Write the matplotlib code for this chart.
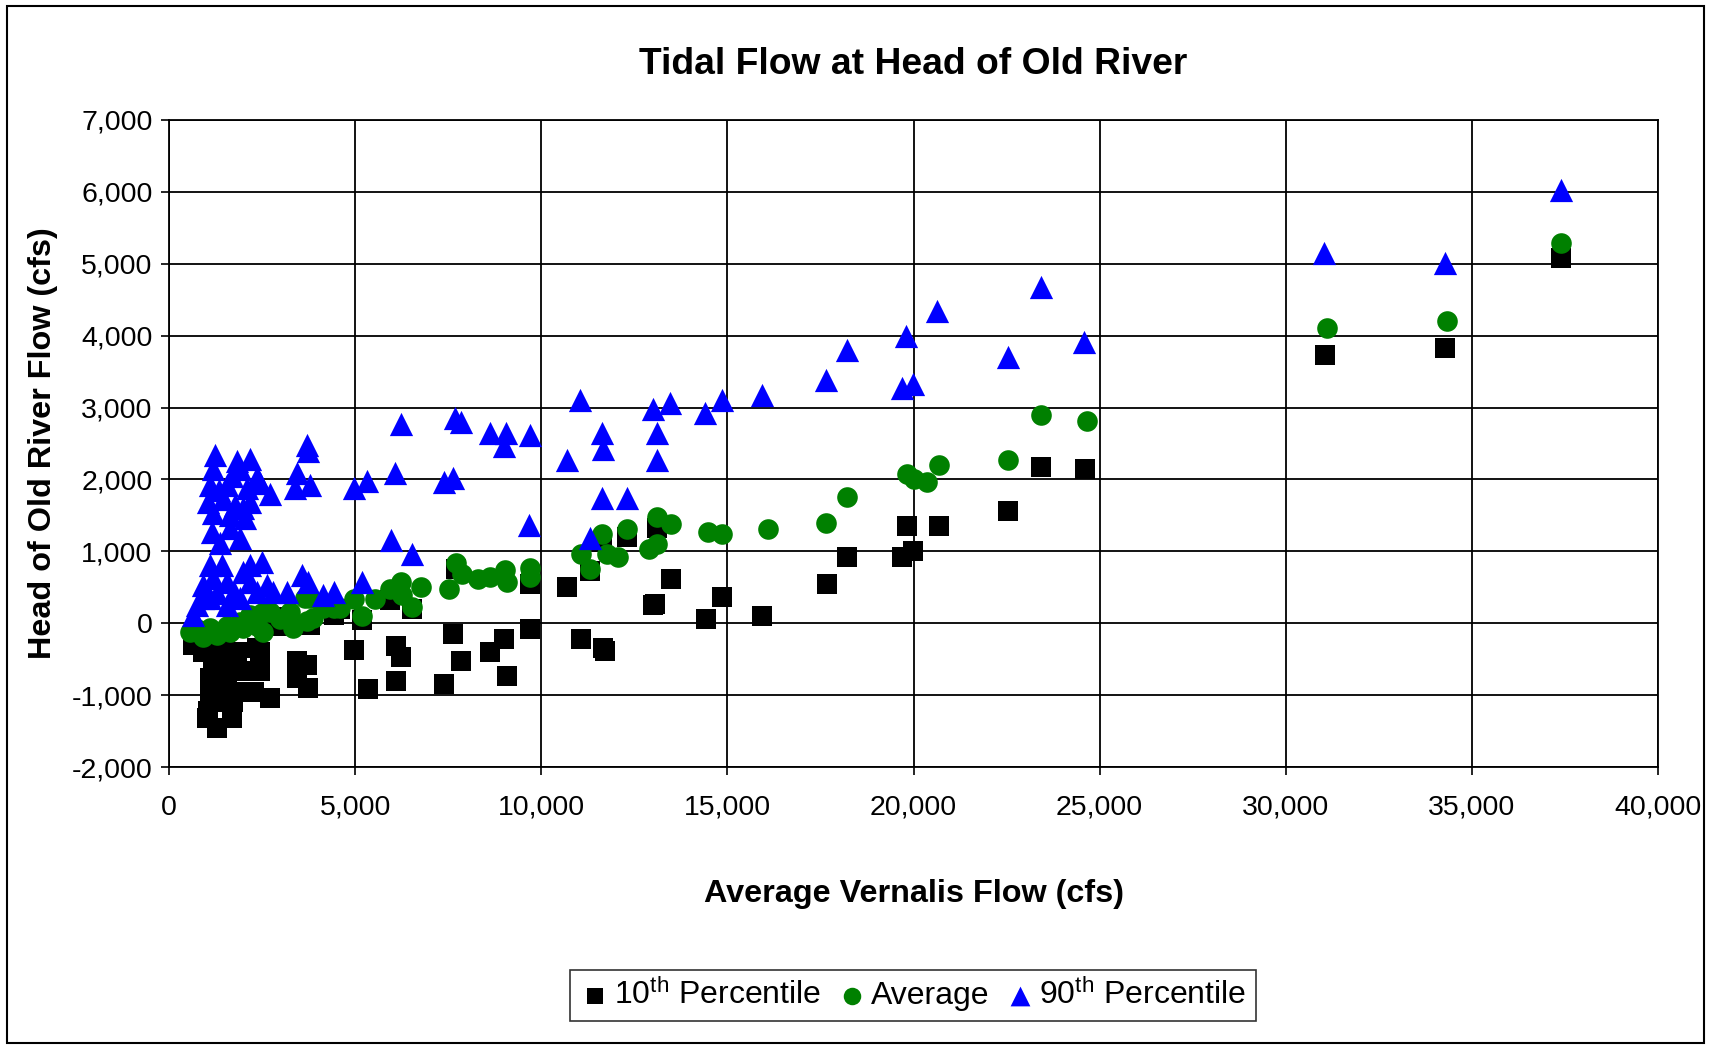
import matplotlib
matplotlib.use("Agg")
import matplotlib.pyplot as plt
from matplotlib.patches import Rectangle
from matplotlib.ticker import FuncFormatter

plt.rcParams["font.family"] = ["Liberation Sans", "DejaVu Sans"]
plt.rcParams["mathtext.fontset"] = "custom"
plt.rcParams["mathtext.rm"] = "Liberation Sans"
plt.rcParams["mathtext.default"] = "regular"

# 10th percentile (x = Vernalis flow, y = Head of Old River flow)
p10_x = [650, 920, 1370, 1820, 2360, 1190, 1730, 2450, 1100, 1550, 2090, 2450,
         1100, 1460, 1910, 2270, 2710, 1280, 1730, 1050, 1010, 1280, 1680,
         3430, 3700, 3430, 3740, 2940, 3790, 4420, 3220, 4590, 700, 1000, 1400, 1500,
         5940, 6520, 5180, 7710, 9700, 4970, 5350, 6100, 6220, 6100, 7400, 7640,
         7830, 8620, 9010, 9070, 9700,
         11620, 12310, 13100, 11310, 10680, 13480, 13060, 14850, 14420, 15940,
         11060, 11650, 11700, 13000,
         17670, 18200, 19680, 19990, 19820, 20690, 22550, 23420, 24610,
         31050, 34290, 37390]
p10_y = [-300, -395, -350, -395, -350, -580, -530, -395, -765, -765, -670, -670,
         -995, -950, -950, -950, -1040, -1090, -1090, -1225, -1320, -1460, -1320,
         -530, -580, -765, -900, -45, -25, 115, 90, 200, -200, -150, -450, -250,
         320, 200, 50, 760, 550, -370, -910, -315, -465, -810, -840, -150,
         -530, -395, -220, -740, -80,
         1135, 1200, 1320, 720, 510, 610, 265, 370, 55, 95,
         -220, -340, -390, 260,
         540, 925, 925, 1000, 1350, 1350, 1555, 2180, 2140,
         3730, 3830, 5080]

# average
avg_x = [560, 920, 1280, 1640, 1990, 2360, 2530, 2710, 3250, 3340, 3700, 3880,
         3790, 4420, 4140, 1100, 1550, 1910, 2180, 2490, 2990, 3660, 750, 4590,
         4970, 5180, 5530, 5940, 6220, 6250, 6520, 6770, 7530, 7710, 7860, 8310,
         8620, 9030, 9070, 9700, 9700,
         11620, 12310, 13100, 13480, 14470, 14850, 16090, 17640, 11060, 11310,
         11760, 12070, 12900, 13100,
         18200, 19820, 20020, 20370, 20690, 22550, 23420, 24650,
         31110, 34330, 37390]
avg_y = [-115, -185, -160, -115, -70, -45, -115, 160, 160, -70, 25, 70,
         345, 210, 210, -60, -40, 20, 110, 140, 60, 350, -80, 214,
         340, 95, 340, 475, 570, 395, 220, 510, 475, 835, 680, 610,
         650, 740, 570, 765, 650,
         1235, 1305, 1480, 1380, 1275, 1235, 1305, 1400, 960, 755,
         960, 915, 1030, 1100,
         1760, 2080, 2000, 1970, 2200, 2270, 2890, 2820,
         4110, 4210, 5290]

# 90th percentile
p90_x = [1240, 1190, 1820, 2180, 1910, 2360, 2450, 2710, 1100, 1550, 2090, 1050,
         1460, 1770, 2180, 1190, 1640, 2040, 1150, 1640, 1370, 1910, 3700, 3740,
         3430, 3390, 3790, 1350, 1700, 2000,
         1100, 1420, 2180, 2490, 1990, 920, 1190, 1550, 2180, 2620, 740, 650,
         1100, 1550, 1910, 2360, 2800, 3160, 3560, 3740, 4140, 4420,
         1300, 1750, 900,
         4970, 5330, 6070, 6220, 7400, 7640, 7680, 7830, 8620, 9040, 9010, 9700,
         9670, 5960, 6540, 5180,
         10680, 11040, 11620, 11670, 11620, 12310, 11310, 12990, 13460, 13100,
         13100, 14400, 14850, 15940, 17650,
         18200, 19800, 20640, 23420, 19680, 19980, 22530, 24580,
         31040, 34290, 37390]
p90_y = [2340, 2150, 2250, 2290, 2150, 2040, 1950, 1800, 1920, 1920, 1875, 1690,
         1735, 1640, 1690, 1530, 1500, 1460, 1270, 1320, 1110, 1180, 2480, 2400,
         2085, 1875, 1920, 1850, 2050, 1600,
         810, 810, 810, 855, 715, 530, 625, 580, 580, 530, 255, 115,
         345, 255, 345, 440, 440, 440, 670, 580, 395, 440,
         420, 440, 350,
         1875, 1980, 2085, 2765, 1960, 2015, 2855, 2800, 2650, 2650, 2460, 2625,
         1365, 1160, 970, 580,
         2270, 3100, 2640, 2420, 1745, 1745, 1190, 2975, 3070, 2640,
         2270, 2920, 3100, 3180, 3380,
         3795, 4000, 4340, 4675, 3270, 3330, 3710, 3910,
         5150, 5010, 6020]

fig = plt.figure(figsize=(17.11, 10.47), dpi=100)
ax = fig.add_axes([0.0988, 0.2674, 0.8702, 0.618])

ax.scatter(p10_x, p10_y, marker="s", s=200, color="black", linewidths=0,
           label=r"10$^{th}$ Percentile", zorder=3)
ax.scatter(avg_x, avg_y, marker="o", s=220, color="#008000", linewidths=0,
           label="Average", zorder=4)
ax.scatter(p90_x, p90_y, marker="^", s=280, color="#0000ff", linewidths=0,
           label=r"90$^{th}$ Percentile", zorder=5)

ax.set_xlim(0, 40000)
ax.set_ylim(-2000, 7000)
ax.set_xticks(range(0, 40001, 5000))
ax.set_yticks(range(-2000, 7001, 1000))
fmt = FuncFormatter(lambda v, p: f"{int(v):,}")
ax.xaxis.set_major_formatter(fmt)
ax.yaxis.set_major_formatter(fmt)
ax.tick_params(labelsize=20.5, direction="out", length=6, width=1.2)
ax.tick_params(axis="x", pad=14)
ax.tick_params(axis="y", pad=6)
ax.grid(True, color="black", linewidth=1.3)
ax.set_axisbelow(True)
for sp in ax.spines.values():
    sp.set_linewidth(1.3)

ax.set_title("Tidal Flow at Head of Old River", fontsize=26.8, fontweight="bold", pad=33)
ax.set_xlabel("Average Vernalis Flow (cfs)", fontsize=23.3, fontweight="bold", labelpad=42)
ax.set_ylabel("Head of Old River Flow (cfs)", fontsize=23.3, fontweight="bold", labelpad=10)

leg = fig.legend(loc="center", bbox_to_anchor=(0.5335, 0.0495), ncol=3, fontsize=23,
                 frameon=True, fancybox=False, edgecolor="black", handletextpad=0.1,
                 handlelength=1.0, columnspacing=0.45, borderpad=0.3, markerscale=0.85)
leg.get_frame().set_linewidth(1.2)

fig.patches.append(Rectangle((0.004, 0.004), 0.992, 0.990, transform=fig.transFigure,
                             fill=False, edgecolor="black", linewidth=1.5))

fig.savefig("out.png", dpi=100)
